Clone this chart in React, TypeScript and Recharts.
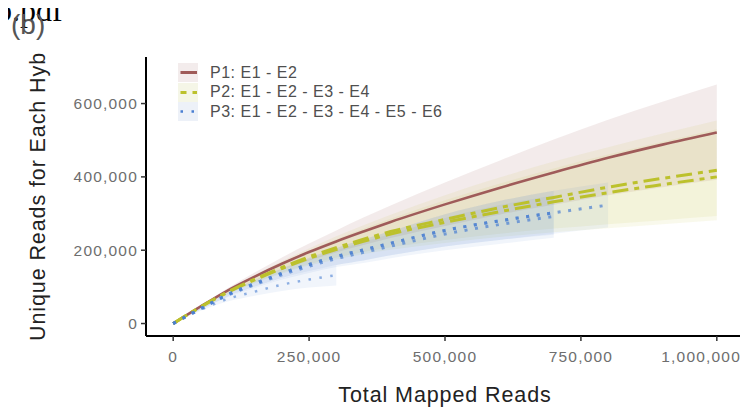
import React from "react";
import { ComposedChart, Area, Line, XAxis, YAxis, Legend } from "recharts";

// total mapped reads (thousands) at which the curves were sampled
const READS_K = [0, 50, 100, 150, 200, 250, 300, 350, 400, 500, 600, 700, 800, 900, 1000];

// unique reads (thousands)
const P1_MEAN = [0, 46, 90, 128, 163, 195, 224, 251, 277, 325, 370, 412, 452, 488, 521];
const P1_LO = [0, 44, 84, 117, 146, 172, 194, 214, 233, 266, 297, 324, 350, 372, 392];
const P1_HI = [0, 48, 96, 139, 180, 218, 254, 289, 322, 385, 444, 502, 556, 605, 652];

const P2A_MEAN = [0, 45, 86, 121, 153, 182, 207, 230, 251, 284, 316, 344, 372, 396, 418];
const P2A_LO = [0, 43, 80, 110, 136, 158, 175, 189, 201, 220, 236, 249, 260, 271, 282];
const P2A_HI = [0, 47, 92, 132, 170, 205, 238, 268, 297, 350, 398, 442, 481, 518, 554];
const P2B_MEAN = [0, 45, 85, 119, 150, 178, 202, 224, 244, 276, 305, 332, 357, 379, 400];
const P2B_LO = [0, 44, 81, 112, 139, 162, 180, 195, 208, 228, 245, 259, 271, 282, 293];
const P2B_HI = [0, 46, 90, 129, 165, 199, 230, 259, 286, 336, 381, 423, 461, 496, 530];

const P3A_MEAN = [0, 40, 79, 109, 137, 161, 183, 201, 219, 254, 280, 302];
const P3A_LO = [0, 38, 74, 100, 124, 143, 160, 172, 186, 210, 228, 242];
const P3A_HI = [0, 42, 84, 118, 150, 179, 206, 230, 252, 298, 334, 362];
const P3B_MEAN = [0, 40, 77, 106, 133, 156, 177, 194, 211, 244, 270, 292];
const P3B_LO = [0, 38, 72, 97, 120, 138, 154, 165, 178, 200, 217, 234];
const P3B_HI = [0, 42, 82, 115, 146, 174, 200, 223, 244, 288, 323, 350];
const P3C_MEAN = [0, 40, 79, 109, 137, 161, 183, 201, 219, 254, 280, 302, 323];
const P3C_LO = [0, 38, 74, 100, 124, 143, 160, 172, 186, 210, 228, 245, 262];
const P3C_HI = [0, 42, 84, 118, 150, 179, 206, 230, 252, 298, 334, 362, 385];
const P3D_MEAN = [0, 37, 67, 87, 106, 120, 132];
const P3D_LO = [0, 34, 60, 76, 89, 98, 104];
const P3D_HI = [0, 40, 74, 99, 123, 143, 159];

const LABELS = ["P1: E1 - E2", "P2: E1 - E2 - E3 - E4", "P3: E1 - E2 - E3 - E4 - E5 - E6"];
const X_TICKS = [0, 250000, 500000, 750000, 1000000];
const Y_TICKS = [0, 200000, 400000, 600000];

const BROWN = "#9f5b59";
const OLIVE = "#bcc12c";
const BLUE = "#4a7fd2";
const FONT = "'Liberation Sans', Arial, Helvetica, sans-serif";
const TICK_GREY = "#6e6e6e";

const K = 1000;
const rows = READS_K.map((x, i) => {
  const r: Record<string, any> = { x: x * K };
  const put = (key: string, arr: number[]) => {
    if (i < arr.length) r[key] = arr[i] * K;
  };
  const band = (key: string, lo: number[], hi: number[]) => {
    if (i < lo.length) r[key] = [lo[i] * K, hi[i] * K];
  };
  put("p1", P1_MEAN);
  band("p1b", P1_LO, P1_HI);
  put("p2a", P2A_MEAN);
  band("p2ab", P2A_LO, P2A_HI);
  put("p2b", P2B_MEAN);
  band("p2bb", P2B_LO, P2B_HI);
  put("p3a", P3A_MEAN);
  band("p3ab", P3A_LO, P3A_HI);
  put("p3b", P3B_MEAN);
  band("p3bb", P3B_LO, P3B_HI);
  put("p3c", P3C_MEAN);
  band("p3cb", P3C_LO, P3C_HI);
  put("p3d", P3D_MEAN);
  band("p3db", P3D_LO, P3D_HI);
  return r;
});

const fmt = (v: number) => v.toLocaleString("en-US");

// last label is pulled back inside the figure, as in the original
function XTick(props: any) {
  const { x, y, payload } = props;
  const last = payload.value === X_TICKS[X_TICKS.length - 1];
  return (
    <text
      x={last ? x + 25 : x}
      y={y}
      dy="0.71em"
      textAnchor={last ? "end" : "middle"}
      fill={TICK_GREY}
      fontSize={15.5}
      fontFamily={FONT}
      style={{ letterSpacing: 1.2 }}
    >
      {fmt(payload.value)}
    </text>
  );
}

const KEYS = [
  { color: BROWN, bg: "#f3ecec", dash: undefined, width: 3 },
  { color: OLIVE, bg: "#f5f6e7", dash: "6 6", width: 3 },
  { color: BLUE, bg: "#edf1f8", dash: "2.5 8.5", width: 2.5 },
];

function LegendBox() {
  return (
    <div style={{ fontFamily: FONT }}>
      {LABELS.map((lab, i) => (
        <div key={lab} style={{ display: "flex", alignItems: "center", height: 19.5 }}>
          <svg width={20} height={19} style={{ background: KEYS[i].bg }}>
            <line
              x1={2.5}
              x2={19}
              y1={9.5}
              y2={9.5}
              stroke={KEYS[i].color}
              strokeWidth={KEYS[i].width}
              strokeDasharray={KEYS[i].dash}
            />
          </svg>
          <span style={{ marginLeft: 12, fontSize: 16, letterSpacing: 0.5, color: "#4f4f4f", whiteSpace: "nowrap" }}>{lab}</span>
        </div>
      ))}
    </div>
  );
}

const bandProps = { type: "monotone" as const, stroke: "none", isAnimationActive: false, activeDot: false };

export default function App() {
  return (
    <div style={{ position: "relative", width: 740, height: 401 }}>
      <div style={{ position: "absolute", left: -12, top: -14, fontFamily: "'Liberation Serif', 'Times New Roman', serif", fontSize: 32, lineHeight: 1, color: "#000" }}>
        b.pdf
      </div>
      <div style={{ position: "absolute", left: 3, top: 3, fontFamily: FONT, fontSize: 28, lineHeight: 1, color: "#555" }}>(b)</div>
      <ComposedChart width={740} height={401} data={rows} margin={{ top: 49, right: 4, bottom: 0, left: 0 }}>
        <XAxis
          dataKey="x"
          type="number"
          domain={[-50000, 1050000]}
          ticks={X_TICKS}
          tickFormatter={fmt}
          allowDataOverflow
          height={73}
          axisLine={{ stroke: "#000", strokeWidth: 2 }}
          tickLine={{ stroke: "#333", strokeWidth: 1.5 }}
          tickSize={5}
          tickMargin={10}
          tick={<XTick />}
          label={{ value: "Total Mapped Reads", position: "insideBottom", offset: 7, fill: "#222", fontSize: 21.5, fontFamily: FONT, style: { letterSpacing: 0.9 } }}
        />
        <YAxis
          type="number"
          domain={[-34000, 727000]}
          ticks={Y_TICKS}
          tickFormatter={fmt}
          allowDataOverflow
          width={138}
          axisLine={{ stroke: "#000", strokeWidth: 2 }}
          tickLine={{ stroke: "#333", strokeWidth: 1.5 }}
          tickSize={5}
          tickMargin={3}
          tick={{ fill: TICK_GREY, fontSize: 15.5, fontFamily: FONT, style: { letterSpacing: 1.2 } }}
          label={{ value: "Unique Reads for Each Hyb", angle: -90, position: "insideLeft", offset: 29, fill: "#222", fontSize: 21.5, fontFamily: FONT, style: { textAnchor: "middle", letterSpacing: 0.9 } }}
        />
        <Legend
          layout="vertical"
          align="center"
          verticalAlign="middle"
          content={() => <LegendBox />}
          wrapperStyle={{ left: 170, top: 55, width: 340, height: 60 }}
        />

        <Area dataKey="p1b" {...bandProps} fill={BROWN} fillOpacity={0.12} />
        <Area dataKey="p2ab" {...bandProps} fill={OLIVE} fillOpacity={0.09} />
        <Area dataKey="p2bb" {...bandProps} fill={OLIVE} fillOpacity={0.09} />
        <Area dataKey="p3ab" {...bandProps} fill={BLUE} fillOpacity={0.08} />
        <Area dataKey="p3bb" {...bandProps} fill={BLUE} fillOpacity={0.08} />
        <Area dataKey="p3cb" {...bandProps} fill={BLUE} fillOpacity={0.08} />
        <Area dataKey="p3db" {...bandProps} fill={BLUE} fillOpacity={0.08} />

        <Line dataKey="p1" type="monotone" stroke={BROWN} strokeWidth={2.6} dot={false} activeDot={false} isAnimationActive={false} />
        <Line dataKey="p2a" type="monotone" stroke={OLIVE} strokeWidth={3} strokeDasharray="16 6 5 6" dot={false} activeDot={false} isAnimationActive={false} />
        <Line dataKey="p2b" type="monotone" stroke={OLIVE} strokeWidth={3} strokeDasharray="16 6 5 6" dot={false} activeDot={false} isAnimationActive={false} />
        <Line dataKey="p3a" type="monotone" stroke={BLUE} strokeOpacity={0.7} strokeWidth={3} strokeDasharray="3 7.6" dot={false} activeDot={false} isAnimationActive={false} />
        <Line dataKey="p3b" type="monotone" stroke={BLUE} strokeOpacity={0.7} strokeWidth={3} strokeDasharray="3 7.6" dot={false} activeDot={false} isAnimationActive={false} />
        <Line dataKey="p3c" type="monotone" stroke={BLUE} strokeOpacity={0.7} strokeWidth={3} strokeDasharray="3 7.6" dot={false} activeDot={false} isAnimationActive={false} />
        <Line dataKey="p3d" type="monotone" stroke={BLUE} strokeOpacity={0.6} strokeWidth={2.5} strokeDasharray="2.5 8.5" dot={false} activeDot={false} isAnimationActive={false} />
      </ComposedChart>
    </div>
  );
}
